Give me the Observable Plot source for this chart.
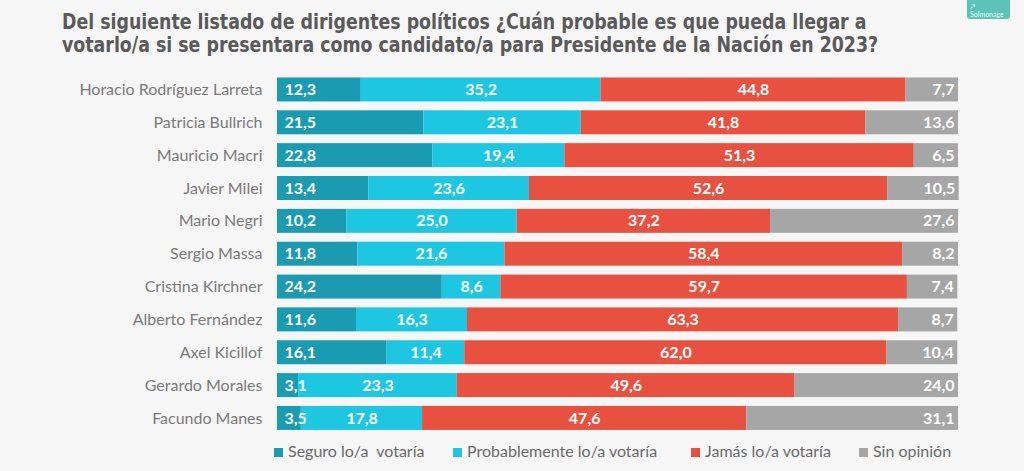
<!DOCTYPE html>
<html>
<head>
<meta charset="utf-8">
<script src="https://cdn.jsdelivr.net/npm/d3@7"></script>
<script src="https://cdn.jsdelivr.net/npm/@observablehq/plot@0.6"></script>
<style>
  html, body { margin: 0; padding: 0; }
  body { width: 1024px; height: 471px; background: #f6f6f6; position: relative; overflow: hidden; font-family: Lato, "Open Sans", sans-serif; }
  #title { position: absolute; left: 62px; top: 11px; font-family: "Liberation Sans Narrow", "Arial Narrow", "DejaVu Sans Condensed", sans-serif; font-weight: bold; font-size: 21px; line-height: 23px; color: #5a5a5a; white-space: nowrap; transform: scaleX(0.92); transform-origin: 0 0; }
  #logo { position: absolute; left: 967px; top: 0px; width: 43px; height: 19px; background: #5cc3b6; border-radius: 0 0 3px 3px; color: #e8fffb; font-size: 7px; line-height: 8px; padding: 2px 0 0 3px; box-sizing: border-box; font-family: Lato, sans-serif; }
  #chart { position: absolute; left: 0; top: 60px; }
  #legend { position: absolute; top: 441px; left: 0; width: 1024px; height: 20px; font-family: Lato, sans-serif; font-size: 16px; color: #6a6a6a; }
  .li { position: absolute; top: 0; white-space: pre; line-height: 20px; }
  .sw { display: inline-block; width: 9px; height: 9px; margin-right: 5px; vertical-align: 0px; }
</style>
</head>
<body>
<div id="title">Del siguiente listado de dirigentes políticos ¿Cuán probable es que pueda llegar a<br>votarlo/a si se presentara como candidato/a para Presidente de la Nación en 2023?</div>
<div id="logo">↗<br>Solmonage</div>
<div id="chart"></div>
<div id="legend"></div>
<script>
const names = ["Horacio Rodríguez Larreta","Patricia Bullrich","Mauricio Macri","Javier Milei","Mario Negri","Sergio Massa","Cristina Kirchner","Alberto Fernández","Axel Kicillof","Gerardo Morales","Facundo Manes"];
const seguro = [12.3,21.5,22.8,13.4,10.2,11.8,24.2,11.6,16.1,3.1,3.5];
const probable = [35.2,23.1,19.4,23.6,25.0,21.6,8.6,16.3,11.4,23.3,17.8];
const jamas = [44.8,41.8,51.3,52.6,37.2,58.4,59.7,63.3,62.0,49.6,47.6];
const sinOpinion = [7.7,13.6,6.5,10.5,27.6,8.2,7.4,8.7,10.4,24.0,31.1];
const categories = ["Seguro lo/a  votaría","Probablemente lo/a votaría","Jamás lo/a votaría","Sin opinión"];
const colors = ["#1a9bb1","#1ec7e1","#e8513f","#a6a6a6"];
const legendLeft = [274, 453, 691, 859];

const series = [seguro, probable, jamas, sinOpinion];
const rows = [];
names.forEach((name, i) => {
  let acc = 0;
  series.forEach((s, k) => {
    const v = s[i];
    rows.push({name, cat: categories[k], k, value: v, x1: acc, x2: acc + v});
    acc += v;
  });
});
const fmt = v => v.toFixed(1).replace(".", ",");

const chart = Plot.plot({
  width: 1024,
  height: 385,
  marginLeft: 277,
  marginRight: 66,
  marginTop: 8.6,
  marginBottom: 6.2,
  style: {background: "transparent", fontFamily: "Lato, sans-serif"},
  x: {domain: [0, 100], axis: null},
  y: {domain: names, padding: 0.27, round: false, label: null},
  color: {domain: categories, range: colors},
  marks: [
    Plot.barX(rows, {x1: "x1", x2: "x2", y: "name", fill: "cat"}),
    Plot.axisY({tickSize: 0, tickPadding: 15, fontSize: 16, color: "#7a7a7a", label: null}),
    Plot.text(rows.filter(d => d.k === 0), {x: "x1", y: "name", text: d => fmt(d.value), textAnchor: "start", dx: 7, fill: "white", fontWeight: "bold", fontSize: 16}),
    Plot.text(rows.filter(d => d.k === 1 || d.k === 2), {x: d => (d.x1 + d.x2) / 2, y: "name", text: d => fmt(d.value), fill: "white", fontWeight: "bold", fontSize: 16}),
    Plot.text(rows.filter(d => d.k === 3), {x: "x2", y: "name", text: d => fmt(d.value), textAnchor: "end", dx: -4, fill: "white", fontWeight: "bold", fontSize: 16})
  ]
});
document.getElementById("chart").appendChild(chart);

const legend = document.getElementById("legend");
categories.forEach((c, i) => {
  const el = document.createElement("div");
  el.className = "li";
  el.style.left = legendLeft[i] + "px";
  el.innerHTML = `<span class="sw" style="background:${colors[i]}"></span>`;
  el.appendChild(document.createTextNode(c));
  legend.appendChild(el);
});
</script>
</body>
</html>
